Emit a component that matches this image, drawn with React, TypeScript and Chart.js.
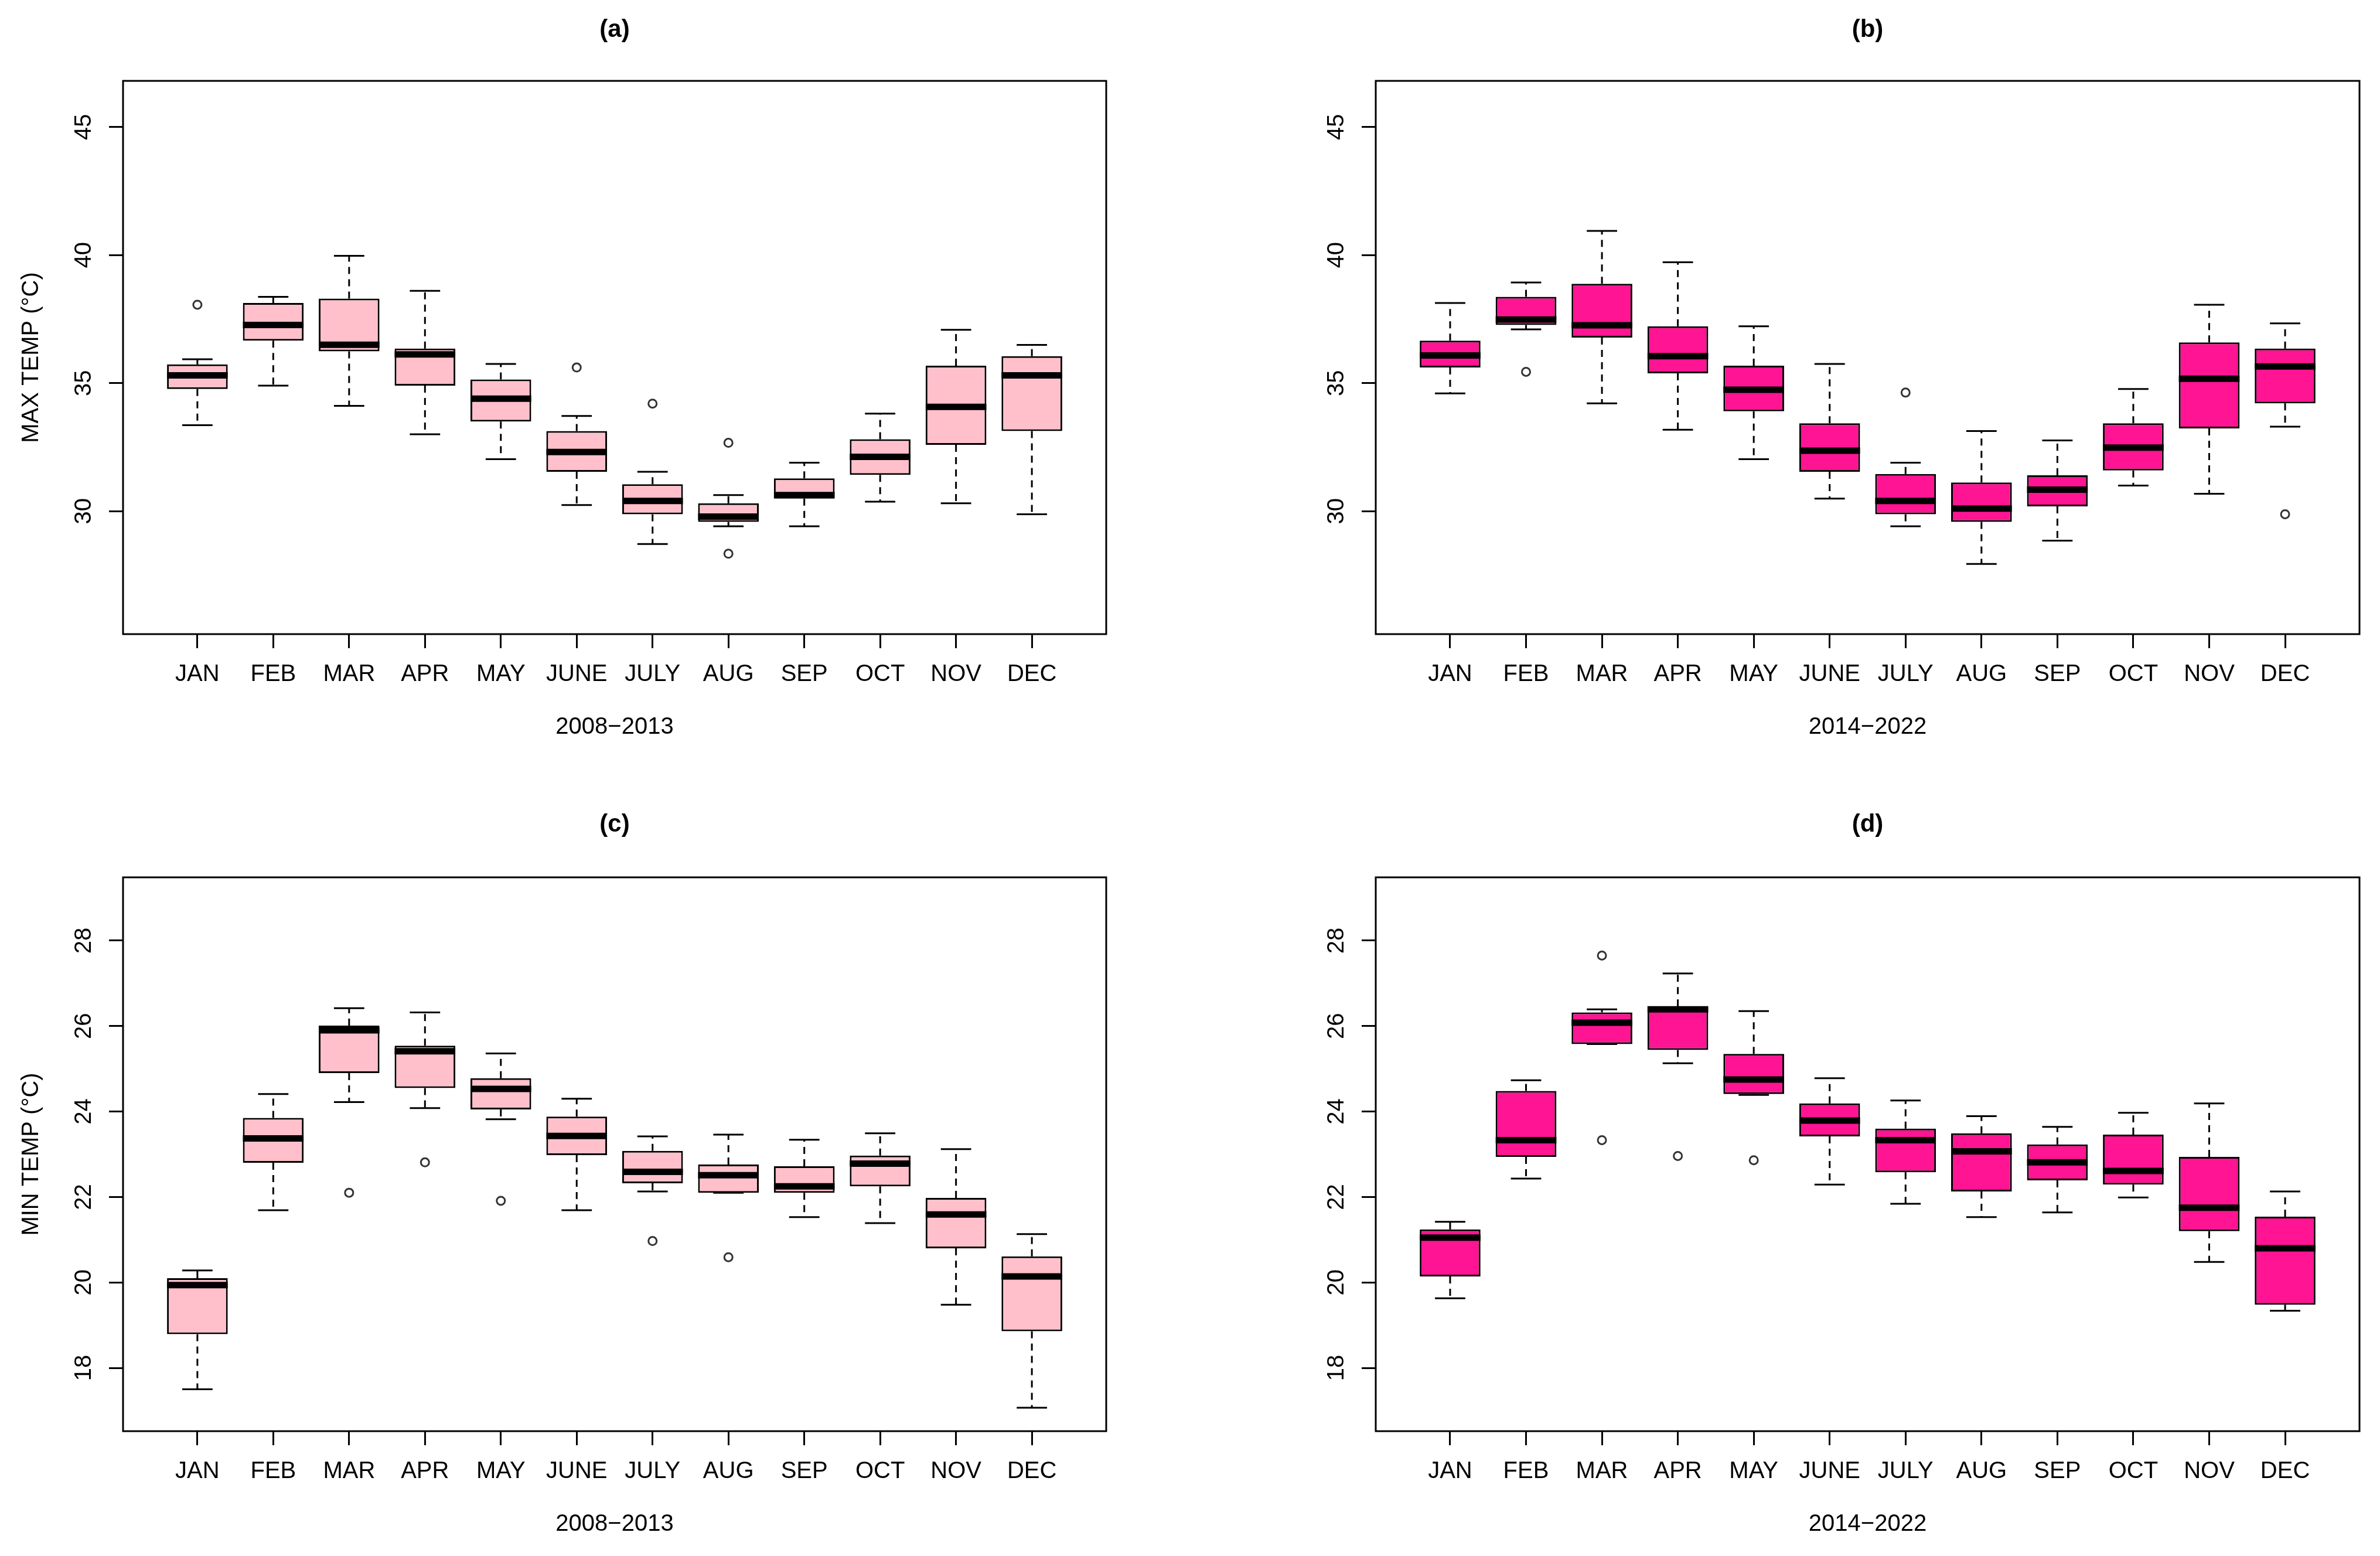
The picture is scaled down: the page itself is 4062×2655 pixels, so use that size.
import React, { useEffect, useRef } from 'react';
import { Chart, registerables } from 'chart.js';

Chart.register(...registerables);
Chart.defaults.font.family = '"Liberation Sans", Arial, Helvetica, sans-serif';
Chart.defaults.color = '#000';

// ---------- DATA ----------
const months = ['JAN', 'FEB', 'MAR', 'APR', 'MAY', 'JUNE', 'JULY', 'AUG', 'SEP', 'OCT', 'NOV', 'DEC'];

const maxTicks = [30, 35, 40, 45];
const minTicks = [18, 20, 22, 24, 26, 28];

// (a) MAX TEMP 2008-2013
const maxEarlyLow = [33.36, 34.9, 34.11, 33.0, 32.03, 30.24, 28.72, 29.41, 29.41, 30.37, 30.31, 29.88];
const maxEarlyQ1 = [34.77, 36.66, 36.24, 34.9, 33.5, 31.54, 29.88, 29.58, 30.49, 31.42, 32.59, 33.13];
const maxEarlyMedian = [35.3, 37.27, 36.5, 36.12, 34.39, 32.31, 30.4, 29.79, 30.63, 32.12, 34.07, 35.3];
const maxEarlyQ3 = [35.73, 38.13, 38.3, 36.35, 35.14, 33.13, 31.05, 30.31, 31.28, 32.81, 35.68, 36.05];
const maxEarlyHigh = [35.93, 38.37, 39.97, 38.6, 35.75, 33.72, 31.54, 30.63, 31.89, 33.81, 37.08, 36.49];
const maxEarlyOutliers: [string, number][] = [['JAN', 38.06], ['JUNE', 35.61], ['JULY', 34.2], ['AUG', 32.67], ['AUG', 28.34]];

// (b) MAX TEMP 2014-2022
const maxLateLow = [34.6, 37.1, 34.21, 33.18, 32.03, 30.49, 29.41, 27.94, 28.85, 31.0, 30.68, 33.3];
const maxLateQ1 = [35.61, 37.27, 36.78, 35.38, 33.9, 31.54, 29.88, 29.58, 30.19, 31.59, 33.23, 34.21];
const maxLateMedian = [36.08, 37.48, 37.26, 36.05, 34.74, 32.36, 30.4, 30.1, 30.84, 32.48, 35.17, 35.65];
const maxLateQ3 = [36.66, 38.37, 38.88, 37.22, 35.68, 33.43, 31.45, 31.12, 31.4, 33.43, 36.59, 36.35];
const maxLateHigh = [38.13, 38.93, 40.94, 39.72, 37.22, 35.75, 31.89, 33.13, 32.76, 34.77, 38.06, 37.33];
const maxLateOutliers: [string, number][] = [['FEB', 35.44], ['JULY', 34.63], ['DEC', 29.88]];

// (c) MIN TEMP 2008-2013
const minEarlyLow = [17.5, 21.69, 24.22, 24.08, 23.82, 21.69, 22.13, 22.1, 21.53, 21.39, 19.48, 17.07];
const minEarlyQ1 = [18.79, 22.8, 24.9, 24.55, 24.05, 22.98, 22.32, 22.1, 22.1, 22.25, 20.8, 18.86];
const minEarlyMedian = [19.94, 23.37, 25.9, 25.41, 24.53, 23.43, 22.59, 22.51, 22.25, 22.78, 21.59, 20.14];
const minEarlyQ3 = [20.1, 23.85, 26.01, 25.54, 24.78, 23.88, 23.08, 22.76, 22.72, 22.97, 21.98, 20.61];
const minEarlyHigh = [20.28, 24.41, 26.42, 26.32, 25.36, 24.3, 23.42, 23.46, 23.34, 23.49, 23.12, 21.13];
const minEarlyOutliers: [string, number][] = [['MAR', 22.1], ['APR', 22.81], ['MAY', 21.91], ['JULY', 20.97], ['AUG', 20.59]];

// (d) MIN TEMP 2014-2022
const minLateLow = [19.63, 22.43, 25.58, 25.13, 24.39, 22.29, 21.84, 21.53, 21.64, 21.99, 20.48, 19.34];
const minLateQ1 = [20.14, 22.94, 25.58, 25.44, 24.41, 23.42, 22.58, 22.13, 22.39, 22.29, 21.2, 19.48];
const minLateMedian = [21.05, 23.33, 26.08, 26.39, 24.75, 23.79, 23.33, 23.07, 22.81, 22.61, 21.75, 20.8];
const minLateQ3 = [21.24, 24.48, 26.32, 26.46, 25.35, 24.19, 23.6, 23.49, 23.23, 23.46, 22.94, 21.54];
const minLateHigh = [21.42, 24.73, 26.39, 27.23, 26.35, 24.78, 24.26, 23.89, 23.64, 23.97, 24.19, 22.13];
const minLateOutliers: [string, number][] = [['MAR', 27.65], ['MAR', 23.33], ['APR', 22.96], ['MAY', 22.86]];

// ---------- PANEL TABLE ----------
type Stats = { low: number[]; q1: number[]; median: number[]; q3: number[]; high: number[]; outliers: [string, number][] };
type PanelCfg = {
  title: string; xTitle: string; yTitle: string | null; fill: string;
  yMin: number; yMax: number; yTicks: number[]; stats: Stats;
  canvas: { left: number; top: number; w: number; h: number };
  area: { l: number; t: number; r: number; b: number };
  titleY: number;
};

const PINK = '#FFC0CB';
const DEEPPINK = '#FF1493';

const panels: PanelCfg[] = [
  {
    title: '(a)', xTitle: '2008\u22122013', yTitle: 'MAX TEMP (°C)', fill: PINK,
    yMin: 25.2, yMax: 46.8, yTicks: maxTicks,
    stats: { low: maxEarlyLow, q1: maxEarlyQ1, median: maxEarlyMedian, q3: maxEarlyQ3, high: maxEarlyHigh, outliers: maxEarlyOutliers },
    canvas: { left: 0, top: 0, w: 2031, h: 1327 }, area: { l: 210, t: 138, r: 1888, b: 1082 }, titleY: 51,
  },
  {
    title: '(b)', xTitle: '2014\u22122022', yTitle: null, fill: DEEPPINK,
    yMin: 25.2, yMax: 46.8, yTicks: maxTicks,
    stats: { low: maxLateLow, q1: maxLateQ1, median: maxLateMedian, q3: maxLateQ3, high: maxLateHigh, outliers: maxLateOutliers },
    canvas: { left: 2031, top: 0, w: 2031, h: 1327 }, area: { l: 2348, t: 138, r: 4027, b: 1082 }, titleY: 51,
  },
  {
    title: '(c)', xTitle: '2008\u22122013', yTitle: 'MIN TEMP (°C)', fill: PINK,
    yMin: 16.52, yMax: 29.48, yTicks: minTicks,
    stats: { low: minEarlyLow, q1: minEarlyQ1, median: minEarlyMedian, q3: minEarlyQ3, high: minEarlyHigh, outliers: minEarlyOutliers },
    canvas: { left: 0, top: 1327, w: 2031, h: 1328 }, area: { l: 210, t: 1497, r: 1888, b: 2442 }, titleY: 1407,
  },
  {
    title: '(d)', xTitle: '2014\u22122022', yTitle: null, fill: DEEPPINK,
    yMin: 16.52, yMax: 29.48, yTicks: minTicks,
    stats: { low: minLateLow, q1: minLateQ1, median: minLateMedian, q3: minLateQ3, high: minLateHigh, outliers: minLateOutliers },
    canvas: { left: 2031, top: 1327, w: 2031, h: 1328 }, area: { l: 2348, t: 1497, r: 4027, b: 2442 }, titleY: 1407,
  },
];

// ---------- PLUGIN: whiskers, caps, medians, frame ----------
function makeBoxPlugin(stats: Stats) {
  return {
    id: 'boxParts',
    beforeDatasetsDraw(chart: any) {
      const { ctx, scales } = chart;
      const x = scales.x, y = scales.y;
      const meta = chart.getDatasetMeta(0);
      ctx.save();
      ctx.strokeStyle = '#000';
      ctx.lineWidth = 3;
      stats.low.forEach((_, i) => {
        const el = meta.data[i];
        const cx = x.getPixelForValue(i + 1);
        const half = (el && el.width ? el.width : 100) / 2;
        const cap = half * 0.5;
        const yl = y.getPixelForValue(stats.low[i]);
        const y1 = y.getPixelForValue(stats.q1[i]);
        const y3 = y.getPixelForValue(stats.q3[i]);
        const yh = y.getPixelForValue(stats.high[i]);
        ctx.setLineDash([12, 9]);
        ctx.beginPath();
        ctx.moveTo(cx, y3); ctx.lineTo(cx, yh);
        ctx.moveTo(cx, y1); ctx.lineTo(cx, yl);
        ctx.stroke();
        ctx.setLineDash([]);
        ctx.beginPath();
        ctx.moveTo(cx - cap, yh); ctx.lineTo(cx + cap, yh);
        ctx.moveTo(cx - cap, yl); ctx.lineTo(cx + cap, yl);
        ctx.stroke();
      });
      ctx.restore();
    },
    afterDatasetsDraw(chart: any) {
      const { ctx, scales } = chart;
      const x = scales.x, y = scales.y;
      const meta = chart.getDatasetMeta(0);
      ctx.save();
      ctx.strokeStyle = '#000';
      ctx.lineWidth = 11;
      ctx.lineCap = 'butt';
      stats.median.forEach((m, i) => {
        const el = meta.data[i];
        const cx = x.getPixelForValue(i + 1);
        const half = (el && el.width ? el.width : 100) / 2;
        const ym = y.getPixelForValue(m);
        ctx.beginPath();
        ctx.moveTo(cx - half, ym); ctx.lineTo(cx + half, ym);
        ctx.stroke();
      });
      ctx.restore();
    },
    afterDraw(chart: any) {
      const { ctx, chartArea } = chart;
      ctx.save();
      ctx.strokeStyle = '#000';
      ctx.lineWidth = 3;
      ctx.strokeRect(chartArea.left, chartArea.top, chartArea.right - chartArea.left, chartArea.bottom - chartArea.top);
      ctx.restore();
    },
  };
}

// ---------- COMPONENTS ----------
function Panel({ cfg }: { cfg: PanelCfg }) {
  const ref = useRef<HTMLCanvasElement>(null);
  useEffect(() => {
    if (!ref.current) return;
    const c = cfg.canvas;
    const L = cfg.area.l - c.left;
    const T = cfg.area.t - c.top;
    const R = c.w - (cfg.area.r - c.left);
    const B = c.h - (cfg.area.b - c.top);
    const titleFont = 42;
    const titlePadTop = cfg.titleY - c.top - titleFont / 2;
    const titlePadBottom = T - titlePadTop - titleFont;
    const labelFont = 40;
    const lh = labelFont * 1.2;
    const xTitlePadBottom = B - 159 - lh / 2;
    const s = cfg.stats;

    const chart = new Chart(ref.current, {
      type: 'bar',
      data: {
        datasets: [
          {
            type: 'bar',
            data: months.map((_, i) => ({ x: i + 1, y: [s.q1[i], s.q3[i]] })) as any,
            backgroundColor: cfg.fill,
            borderColor: '#000',
            borderWidth: 3,
            borderSkipped: false,
            barPercentage: 0.8,
            categoryPercentage: 1.0,
          } as any,
          {
            type: 'scatter',
            data: s.outliers.map(([m, v]) => ({ x: months.indexOf(m) + 1, y: v })),
            pointStyle: 'circle',
            pointRadius: 7,
            pointBorderWidth: 3,
            pointBackgroundColor: 'rgba(0,0,0,0)',
            pointBorderColor: '#333',
            showLine: false,
          } as any,
        ],
      },
      options: {
        responsive: false,
        animation: false,
        devicePixelRatio: 1,
        events: [],
        layout: { padding: { left: 0, top: 0, right: R, bottom: 0 } },
        plugins: {
          legend: { display: false },
          tooltip: { enabled: false },
          title: {
            display: true,
            text: cfg.title,
            fullSize: false,
            color: '#000',
            font: { size: titleFont, weight: 'bold', lineHeight: 1 },
            padding: { top: titlePadTop, bottom: titlePadBottom },
          },
        },
        scales: {
          x: {
            type: 'linear',
            offset: false,
            min: 0.02,
            max: 12.98,
            afterBuildTicks: (sc: any) => { sc.ticks = months.map((_, i) => ({ value: i + 1 })); },
            afterFit: (sc: any) => { sc.height = B; },
            ticks: {
              autoSkip: false, minRotation: 0, maxRotation: 0, padding: 21, color: '#000',
              font: { size: labelFont, lineHeight: 1.2 },
              callback: (v: any) => months[Number(v) - 1] ?? '',
            },
            grid: { display: true, offset: false, drawOnChartArea: false, drawTicks: true, tickLength: 24, lineWidth: 3, color: '#000' },
            border: { display: false },
            title: {
              display: true, text: cfg.xTitle, color: '#000',
              font: { size: labelFont, lineHeight: 1.2 },
              padding: { top: 0, bottom: xTitlePadBottom },
            },
          },
          y: {
            type: 'linear',
            min: cfg.yMin,
            max: cfg.yMax,
            afterBuildTicks: (sc: any) => { sc.ticks = cfg.yTicks.map((v) => ({ value: v })); },
            afterFit: (sc: any) => { sc.width = L; },
            ticks: {
              minRotation: 90, maxRotation: 90, crossAlign: 'center', padding: 20, color: '#000',
              font: { size: labelFont, lineHeight: 1.2 },
              callback: (v: any) => String(v),
            },
            grid: { display: true, drawOnChartArea: false, drawTicks: true, tickLength: 24, lineWidth: 3, color: '#000' },
            border: { display: false },
            title: {
              display: cfg.yTitle != null, text: cfg.yTitle ?? '', color: '#000',
              font: { size: labelFont, lineHeight: 1.2 },
              padding: { top: 30, bottom: 0 },
            },
          },
        },
      } as any,
      plugins: [makeBoxPlugin(s) as any],
    });
    return () => chart.destroy();
  }, [cfg]);

  return (
    <canvas
      ref={ref}
      width={cfg.canvas.w}
      height={cfg.canvas.h}
      style={{ position: 'absolute', left: cfg.canvas.left, top: cfg.canvas.top, width: cfg.canvas.w, height: cfg.canvas.h }}
    />
  );
}

export default function App() {
  return (
    <div style={{ position: 'absolute', left: 0, top: 0, width: 4062, height: 2655, background: '#fff', overflow: 'hidden' }}>
      {panels.map((p) => (
        <Panel key={p.title} cfg={p} />
      ))}
    </div>
  );
}
